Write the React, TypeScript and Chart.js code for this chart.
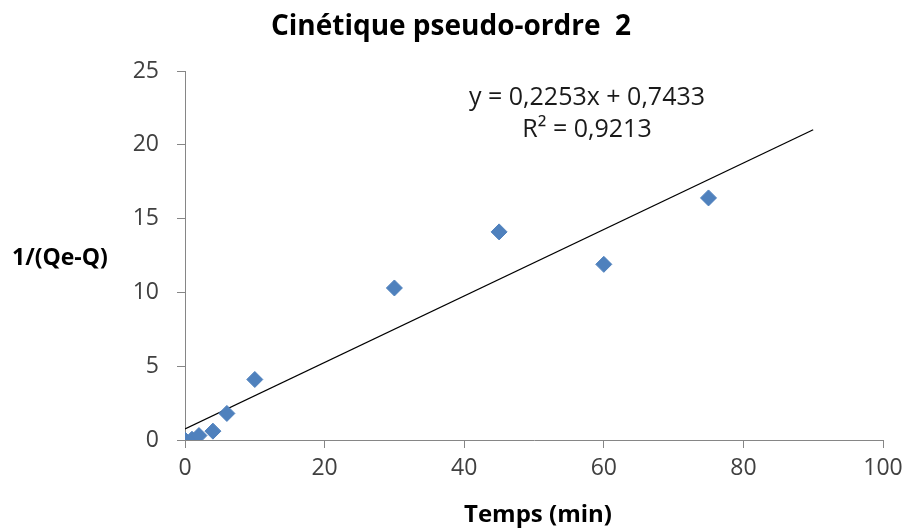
import React, { useEffect, useRef } from "react";
import { Chart, registerables } from "chart.js";

Chart.register(...registerables);

const times = [0, 1, 2, 4, 6, 10, 30, 45, 60, 75];
const inverseValues = [0, 0.05, 0.3, 0.6, 1.8, 4.1, 10.3, 14.1, 11.9, 16.4];
const trendRange = [0, 90];
const slope = 0.2253;
const intercept = 0.7433;
const equationLines = ["y = 0,2253x + 0,7433", "R² = 0,9213"];
const chartTitle = "Cinétique pseudo-ordre  2";
const xTitle = "Temps (min)";
const yTitle = "1/(Qe-Q)";

const FONT = "'Open Sans', 'DejaVu Sans', sans-serif";

const textPlugin = {
  id: "textPlugin",
  afterDraw(chart: any) {
    const { ctx, chartArea } = chart;
    ctx.save();
    ctx.fillStyle = "#000000";
    ctx.textBaseline = "alphabetic";
    ctx.textAlign = "center";
    ctx.font = `bold 28px ${FONT}`;
    ctx.fillText(chartTitle, 451, 35);
    ctx.font = `bold 24px ${FONT}`;
    ctx.fillText(xTitle, (chartArea.left + chartArea.right) / 2 + 4, 522);
    ctx.textAlign = "left";
    ctx.font = `bold 23px ${FONT}`;
    ctx.fillText(yTitle, 12, 265);
    ctx.textAlign = "center";
    ctx.font = `25px ${FONT}`;
    ctx.fillStyle = "#1a1a1a";
    ctx.fillText(equationLines[0], 587, 105);
    ctx.fillText(equationLines[1], 587, 137);
    ctx.restore();
  },
};

export default function App() {
  const ref = useRef<HTMLCanvasElement | null>(null);
  useEffect(() => {
    document.body.style.margin = "0";
    const trend = trendRange.map((x) => ({ x, y: slope * x + intercept }));
    const chart = new Chart(ref.current as HTMLCanvasElement, {
      type: "scatter",
      data: {
        datasets: [
          {
            type: "line",
            data: trend,
            borderColor: "#000000",
            borderWidth: 1.3,
            pointRadius: 0,
            fill: false,
            order: 2,
          } as any,
          {
            data: times.map((t, i) => ({ x: t, y: inverseValues[i] })),
            pointStyle: "rectRot",
            pointRadius: 8,
            pointHoverRadius: 8,
            backgroundColor: "#4F81BD",
            borderColor: "#4F81BD",
            borderWidth: 1,
            order: 1,
          },
        ],
      },
      options: {
        responsive: false,
        animation: false,
        layout: { padding: { left: 0, right: 29, top: 71, bottom: 0 } },
        plugins: { legend: { display: false }, tooltip: { enabled: false }, title: { display: false } },
        scales: {
          x: {
            type: "linear",
            min: 0,
            max: 100,
            afterFit: (s: any) => {
              s.height = 88;
            },
            ticks: { stepSize: 20, color: "#404040", font: { family: FONT, size: 23 }, padding: 7 },
            grid: { drawOnChartArea: false, drawTicks: true, tickLength: 8, color: "#868686" },
            border: { color: "#868686", width: 1 },
          },
          y: {
            type: "linear",
            min: 0,
            max: 25,
            afterFit: (s: any) => {
              s.width = 185;
            },
            ticks: { stepSize: 5, color: "#404040", font: { family: FONT, size: 23 }, padding: 18 },
            grid: { drawOnChartArea: false, drawTicks: true, tickLength: 8, color: "#868686" },
            border: { color: "#868686", width: 1 },
          },
        },
      },
      plugins: [textPlugin],
    });
    return () => chart.destroy();
  }, []);
  return (
    <div style={{ width: 912, height: 528, background: "#ffffff" }}>
      <canvas ref={ref} width={912} height={528} />
    </div>
  );
}
